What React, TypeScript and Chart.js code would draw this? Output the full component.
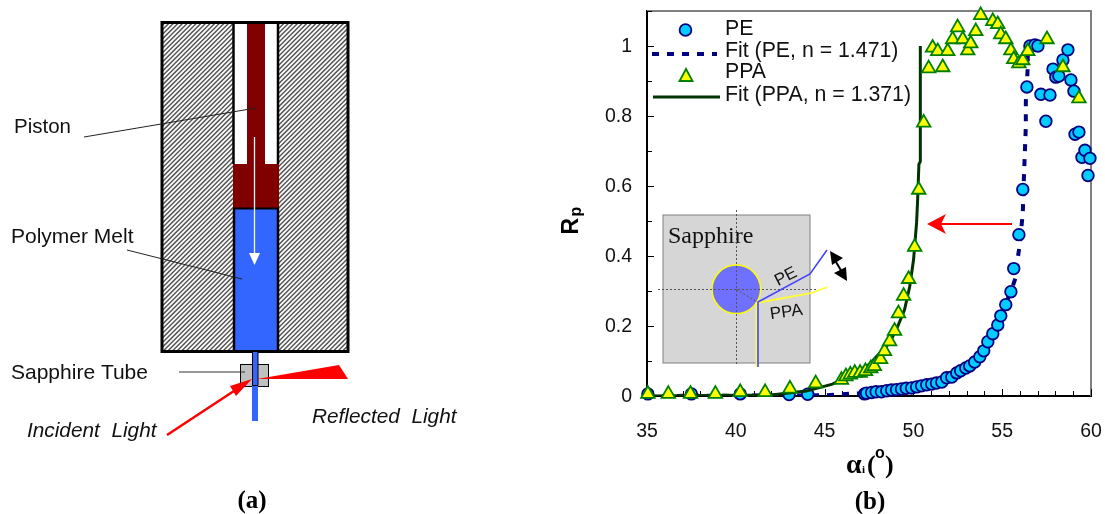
import React, { useEffect, useRef } from "react";
import { Chart, registerables } from "chart.js";

Chart.register(...registerables);

const PE_X = [35.05, 37.5, 40.25, 43, 44.05, 47.25, 47.36, 47.65, 47.9, 48.2, 48.5, 48.77, 49.05, 49.33, 49.6, 49.9, 50.18, 50.46, 50.75, 51.03, 51.3, 51.6, 51.87, 52.16, 52.44, 52.66, 52.95, 53.17, 53.45, 53.74, 53.96, 54.19, 54.47, 54.75, 54.92, 55.2, 55.49, 55.65, 55.94, 56.16, 56.39, 56.56, 56.84, 57.01, 57.18, 57.46, 57.69, 57.86, 58.02, 58.19, 58.42, 58.7, 58.87, 59.04, 59.1, 59.32, 59.49, 59.66, 59.83, 59.94];
const PE_Y = [0.006, 0.006, 0.006, 0.004, 0.005, 0.006, 0.008, 0.01, 0.012, 0.012, 0.015, 0.017, 0.018, 0.02, 0.022, 0.023, 0.026, 0.029, 0.032, 0.034, 0.037, 0.04, 0.052, 0.054, 0.066, 0.072, 0.08, 0.086, 0.097, 0.112, 0.129, 0.155, 0.178, 0.203, 0.229, 0.261, 0.298, 0.364, 0.461, 0.59, 0.883, 1.0, 1.003, 1.0, 0.862, 0.785, 0.86, 0.934, 0.911, 0.914, 0.96, 0.989, 0.903, 0.871, 0.748, 0.754, 0.682, 0.702, 0.63, 0.679];

const PPA_X = [35.05, 36.2, 37.45, 38.85, 40.25, 41.65, 43.05, 44.5, 45.95, 46.2, 46.45, 46.7, 47.0, 47.3, 47.6, 47.8, 48.15, 48.37, 48.66, 48.94, 49.16, 49.45, 49.73, 50.07, 50.3, 50.58, 50.86, 51.08, 51.37, 51.65, 51.93, 52.21, 52.49, 52.78, 53.06, 53.23, 53.51, 53.79, 54.47, 54.75, 54.92, 55.2, 55.49, 55.65, 55.94, 56.16, 56.44, 57.52, 58.42, 59.32];
const PPA_Y = [0.006, 0.006, 0.006, 0.006, 0.011, 0.011, 0.021, 0.036, 0.046, 0.056, 0.061, 0.066, 0.066, 0.071, 0.079, 0.085, 0.105, 0.128, 0.156, 0.186, 0.236, 0.286, 0.334, 0.426, 0.589, 0.781, 0.936, 0.995, 0.985, 0.939, 0.985, 1.019, 1.053, 1.019, 0.987, 1.007, 1.042, 1.088, 1.071, 1.062, 1.033, 1.019, 0.987, 0.962, 0.95, 0.959, 0.985, 1.019, 0.939, 0.85];

const FIT_PE_X = [35, 45, 47, 50, 52, 53.5, 54.5, 55, 55.5, 55.77, 55.88, 56.0, 56.16, 56.22, 56.33, 56.33, 56.44, 56.44];
const FIT_PE_Y = [0, 0.002, 0.008, 0.026, 0.05, 0.1, 0.18, 0.24, 0.3, 0.34, 0.395, 0.438, 0.524, 0.62, 0.77, 0.84, 0.94, 1.0];

const FIT_PPA_X = [35, 42, 43.97, 45.44, 46.5, 47.5, 48.66, 49.11, 49.5, 49.79, 50.01, 50.18, 50.24, 50.31, 50.39, 50.39];
const FIT_PPA_Y = [0, 0.003, 0.014, 0.034, 0.06, 0.09, 0.152, 0.198, 0.246, 0.312, 0.39, 0.496, 0.562, 0.662, 0.67, 1.0];

const SERIES_NAMES = ["PE", "Fit (PE, n = 1.471)", "PPA", "Fit (PPA, n = 1.371)"];
const SANS = '"Liberation Sans"';
const SERIF = '"Liberation Serif"';
const NAVY = "#000080";
const CYAN = "#00ccff";
const YELLOW = "#ffff00";
const GREEN = "#008000";
const DARK_GREEN = "#003300";
const RED = "#ff0000";
const MAROON = "#800000";
const BLUE = "#3366ff";

const toPoints = (xs: number[], ys: number[]) => xs.map((x, i) => ({ x, y: ys[i] }));

function text(ctx: CanvasRenderingContext2D, s: string, x: number, y: number, font: string, align: CanvasTextAlign = "left", color = "#111") {
  ctx.font = font;
  ctx.textAlign = align;
  ctx.textBaseline = "alphabetic";
  ctx.fillStyle = color;
  ctx.fillText(s, x, y);
}

function line(ctx: CanvasRenderingContext2D, pts: number[][], color: string, width: number, dash: number[] = []) {
  ctx.beginPath();
  ctx.setLineDash(dash);
  ctx.strokeStyle = color;
  ctx.lineWidth = width;
  pts.forEach((p, i) => (i ? ctx.lineTo(p[0], p[1]) : ctx.moveTo(p[0], p[1])));
  ctx.stroke();
  ctx.setLineDash([]);
}

function poly(ctx: CanvasRenderingContext2D, pts: number[][], color: string) {
  ctx.beginPath();
  ctx.fillStyle = color;
  pts.forEach((p, i) => (i ? ctx.lineTo(p[0], p[1]) : ctx.moveTo(p[0], p[1])));
  ctx.closePath();
  ctx.fill();
}

function hatchRect(ctx: CanvasRenderingContext2D, x: number, y: number, w: number, h: number) {
  ctx.save();
  ctx.beginPath();
  ctx.rect(x, y, w, h);
  ctx.clip();
  ctx.fillStyle = "#fff";
  ctx.fillRect(x, y, w, h);
  ctx.strokeStyle = "#555";
  ctx.lineWidth = 1.5;
  for (let k = x; k < x + w + h; k += 4.6) {
    ctx.beginPath();
    ctx.moveTo(k, y);
    ctx.lineTo(k - h, y + h);
    ctx.stroke();
  }
  ctx.restore();
}

function drawSchematic(ctx: CanvasRenderingContext2D) {
  hatchRect(ctx, 161, 22, 188, 329);
  ctx.fillStyle = "#fff";
  ctx.fillRect(233, 22, 46, 143);
  ctx.fillStyle = MAROON;
  ctx.fillRect(247, 21, 18, 145);
  ctx.fillRect(233, 164, 46, 44);
  ctx.fillStyle = BLUE;
  ctx.fillRect(234, 208, 44, 143);
  ctx.strokeStyle = "#000";
  ctx.lineWidth = 3;
  ctx.strokeRect(162, 22.5, 186, 329);
  line(ctx, [[233.5, 22], [233.5, 164]], "#000", 2.5);
  line(ctx, [[278, 22], [278, 164]], "#000", 2.5);
  line(ctx, [[234, 208.5], [234, 351]], "#000", 2.5);
  line(ctx, [[278, 208.5], [278, 351]], "#000", 2.5);
  line(ctx, [[233, 208.5], [279, 208.5]], "#000", 2);

  line(ctx, [[254.5, 137], [254.5, 256]], "#f4f4f4", 1.3);
  poly(ctx, [[249, 253], [260, 253], [254.5, 265]], "#fff");
  line(ctx, [[84, 137], [256, 108]], "#222", 1);
  line(ctx, [[127, 250], [242, 279]], "#222", 1);

  // sapphire tube
  ctx.fillStyle = "#c0c0c0";
  ctx.fillRect(240, 364, 28, 22);
  ctx.strokeStyle = "#000";
  ctx.lineWidth = 1;
  ctx.strokeRect(240.5, 364.5, 28, 22);
  ctx.fillStyle = BLUE;
  ctx.fillRect(252, 352, 6, 69);
  line(ctx, [[252.5, 352], [252.5, 385.5], [258, 385.5], [258, 352]], "#000", 1);
  line(ctx, [[179, 372], [245, 372]], "#333", 1);
  line(ctx, [[167, 435], [240, 387]], RED, 2.5);
  poly(ctx, [[252, 379], [236, 396], [230, 386]], RED);
  poly(ctx, [[257, 379], [339, 365], [348, 379]], RED);

  text(ctx, "Piston", 14, 133, `20.5px ${SANS}`);
  text(ctx, "Polymer Melt", 11, 243, `21px ${SANS}`);
  text(ctx, "Sapphire Tube", 11, 379, `21px ${SANS}`);
  text(ctx, "Incident  Light", 27, 437, `italic 20.8px ${SANS}`);
  text(ctx, "Reflected  Light", 312, 423, `italic 20.8px ${SANS}`);
  text(ctx, "(a)", 252, 508, `bold 25px ${SERIF}`, "center", "#000");
  text(ctx, "(b)", 870, 509, `bold 25px ${SERIF}`, "center", "#000");
}

function drawInset(ctx: CanvasRenderingContext2D) {
  ctx.fillStyle = "#d6d6d6";
  ctx.fillRect(663, 215, 147, 148);
  ctx.strokeStyle = "#808080";
  ctx.lineWidth = 1;
  ctx.strokeRect(663, 215, 147, 148);
  text(ctx, "Sapphire", 668, 243, `24px ${SERIF}`);
  ctx.beginPath();
  ctx.arc(736.3, 289.3, 24.3, 0, Math.PI * 2);
  ctx.fillStyle = "#7070ff";
  ctx.fill();
  ctx.strokeStyle = "#ffff00";
  ctx.lineWidth = 1.5;
  ctx.stroke();
  line(ctx, [[736.5, 210], [736.5, 366]], "#555", 1, [2, 2]);
  line(ctx, [[658, 289.5], [817, 289.5]], "#555", 1, [2, 2]);
  line(ctx, [[736.5, 289.5], [757, 302]], "#555", 1, [2, 2]);
  line(ctx, [[756.5, 367], [756.5, 303], [812, 293], [827, 287]], "#ffff33", 1.8);
  line(ctx, [[758, 367], [758, 302], [810, 274], [827, 250]], "#4444ff", 1.6);
  // polarisation arrow
  line(ctx, [[836, 262], [842, 272]], "#000", 2);
  poly(ctx, [[830, 251], [843, 258], [832, 265]], "#000");
  poly(ctx, [[847, 281], [834, 273], [846, 267]], "#000");
  ctx.save();
  ctx.translate(788, 281);
  ctx.rotate((-27 * Math.PI) / 180);
  text(ctx, "PE", 0, 0, `17px ${SANS}`, "center");
  ctx.restore();
  ctx.save();
  ctx.translate(787, 317);
  ctx.rotate((-8 * Math.PI) / 180);
  text(ctx, "PPA", 0, 0, `17px ${SANS}`, "center");
  ctx.restore();
  // shift arrow
  line(ctx, [[1012, 224], [940, 224]], RED, 1.8);
  poly(ctx, [[927, 224], [946, 214], [941, 224], [946, 234]], RED);
}

function drawLegend(ctx: CanvasRenderingContext2D) {
  const font = `21.3px ${SANS}`;
  text(ctx, SERIES_NAMES[0], 725, 35, font);
  text(ctx, SERIES_NAMES[1], 725, 57, font);
  text(ctx, SERIES_NAMES[2], 725, 78, font);
  text(ctx, SERIES_NAMES[3], 725, 101, font);
  ctx.beginPath();
  ctx.arc(685.5, 30, 5.9, 0, Math.PI * 2);
  ctx.fillStyle = CYAN;
  ctx.fill();
  ctx.strokeStyle = NAVY;
  ctx.lineWidth = 1.8;
  ctx.stroke();
  line(ctx, [[652, 54], [717, 54]], NAVY, 4, [7, 8]);
  ctx.beginPath();
  ctx.moveTo(686, 69);
  ctx.lineTo(692.5, 81);
  ctx.lineTo(679.5, 81);
  ctx.closePath();
  ctx.fillStyle = YELLOW;
  ctx.fill();
  ctx.strokeStyle = GREEN;
  ctx.lineWidth = 1.8;
  ctx.stroke();
  line(ctx, [[653, 97], [720, 97]], DARK_GREEN, 3);
}

function drawAxisTitles(ctx: CanvasRenderingContext2D) {
  text(ctx, "α", 846, 473, `bold 28px ${SERIF}`, "left", "#000");
  text(ctx, "i", 862, 473, `bold 11px ${SERIF}`, "left", "#000");
  text(ctx, "(", 867, 473, `bold 26px ${SERIF}`, "left", "#000");
  text(ctx, "o", 875, 458, `bold 16px ${SANS}`, "left", "#000");
  text(ctx, ")", 885, 473, `bold 26px ${SERIF}`, "left", "#000");
  ctx.save();
  ctx.translate(578, 234.5);
  ctx.rotate(-Math.PI / 2);
  text(ctx, "R", 0, 0, `bold 23px ${SANS}`, "left", "#000");
  text(ctx, "p", 18, 3, `bold 16px ${SANS}`, "left", "#000");
  ctx.restore();
}

const decorations = {
  id: "decorations",
  beforeDatasetsDraw(chart: any) {
    const { ctx, chartArea: a, scales } = chart;
    ctx.save();
    drawSchematic(ctx);
    drawInset(ctx);
    line(ctx, [[a.left, a.top], [a.right, a.top], [a.right, a.bottom]], "#808080", 2);
    scales.x.ticks.forEach((t: any) => {
      const px = Math.round(scales.x.getPixelForValue(t.value)) + 0.5;
      line(ctx, [[px, a.bottom], [px, a.bottom - (t.value % 5 === 0 ? 7 : 5)]], "#000", 1);
    });
    scales.y.ticks.forEach((t: any, i: number) => {
      const py = Math.round(scales.y.getPixelForValue(t.value)) + 0.5;
      line(ctx, [[a.left, py], [a.left + (i % 2 === 0 ? 7 : 5), py]], "#000", 1);
    });
    ctx.restore();
  },
  afterDraw(chart: any) {
    const { ctx } = chart;
    ctx.save();
    drawLegend(ctx);
    drawAxisTitles(ctx);
    ctx.restore();
  },
};

const noMargins = (s: any) => {
  s.paddingLeft = 0;
  s.paddingRight = 0;
  s.paddingTop = 0;
  s.paddingBottom = 0;
};

export default function App() {
  const ref = useRef<HTMLCanvasElement>(null);
  useEffect(() => {
    if (!ref.current) return;
    const chart = new Chart(ref.current, {
      type: "scatter",
      data: {
        datasets: [
          { label: SERIES_NAMES[0], data: toPoints(PE_X, PE_Y), order: 3, pointStyle: "circle", pointRadius: 5.8, pointBackgroundColor: CYAN, pointBorderColor: NAVY, pointBorderWidth: 1.8, showLine: false, clip: false },
          { label: SERIES_NAMES[1], data: toPoints(FIT_PE_X, FIT_PE_Y), order: 4, showLine: true, pointRadius: 0, borderColor: NAVY, borderWidth: 4, borderDash: [7, 8], tension: 0 },
          { label: SERIES_NAMES[2], data: toPoints(PPA_X, PPA_Y), order: 1, pointStyle: "triangle", pointRadius: 7.8, pointBackgroundColor: YELLOW, pointBorderColor: GREEN, pointBorderWidth: 1.8, showLine: false, clip: false },
          { label: SERIES_NAMES[3], data: toPoints(FIT_PPA_X, FIT_PPA_Y), order: 2, showLine: true, pointRadius: 0, borderColor: DARK_GREEN, borderWidth: 3, tension: 0 },
        ],
      } as any,
      options: {
        animation: false,
        responsive: false,
        layout: { padding: { left: 587, right: 14, top: 11, bottom: 58 } },
        plugins: { legend: { display: false }, tooltip: { enabled: false } },
        scales: {
          x: {
            type: "linear",
            min: 35,
            max: 60,
            afterFit: (s: any) => { s.height = 60; noMargins(s); },
            grid: { display: false, drawTicks: false },
            border: { display: true, color: "#000", width: 2 },
            ticks: { stepSize: 1, autoSkip: false, maxRotation: 0, padding: 24, color: "#111", font: { family: "Liberation Sans", size: 19.5 }, callback: (v: any) => (v % 5 === 0 ? String(v) : "") },
          },
          y: {
            type: "linear",
            min: 0,
            max: 1.1,
            afterFit: (s: any) => { s.width = 60; noMargins(s); },
            grid: { display: false, drawTicks: false },
            border: { display: true, color: "#000", width: 2 },
            ticks: { stepSize: 0.1, autoSkip: false, padding: 15, labelOffset: 1, color: "#111", font: { family: "Liberation Sans", size: 19.5 }, callback: (v: any) => { const k = Math.round(Number(v) * 10); return k % 2 === 0 && k <= 10 ? String(k / 10) : ""; } },
          },
        },
      } as any,
      plugins: [decorations],
    });
    return () => chart.destroy();
  }, []);
  return <canvas ref={ref} width={1105} height={514} style={{ position: "absolute", left: 0, top: 0, display: "block" }} />;
}
